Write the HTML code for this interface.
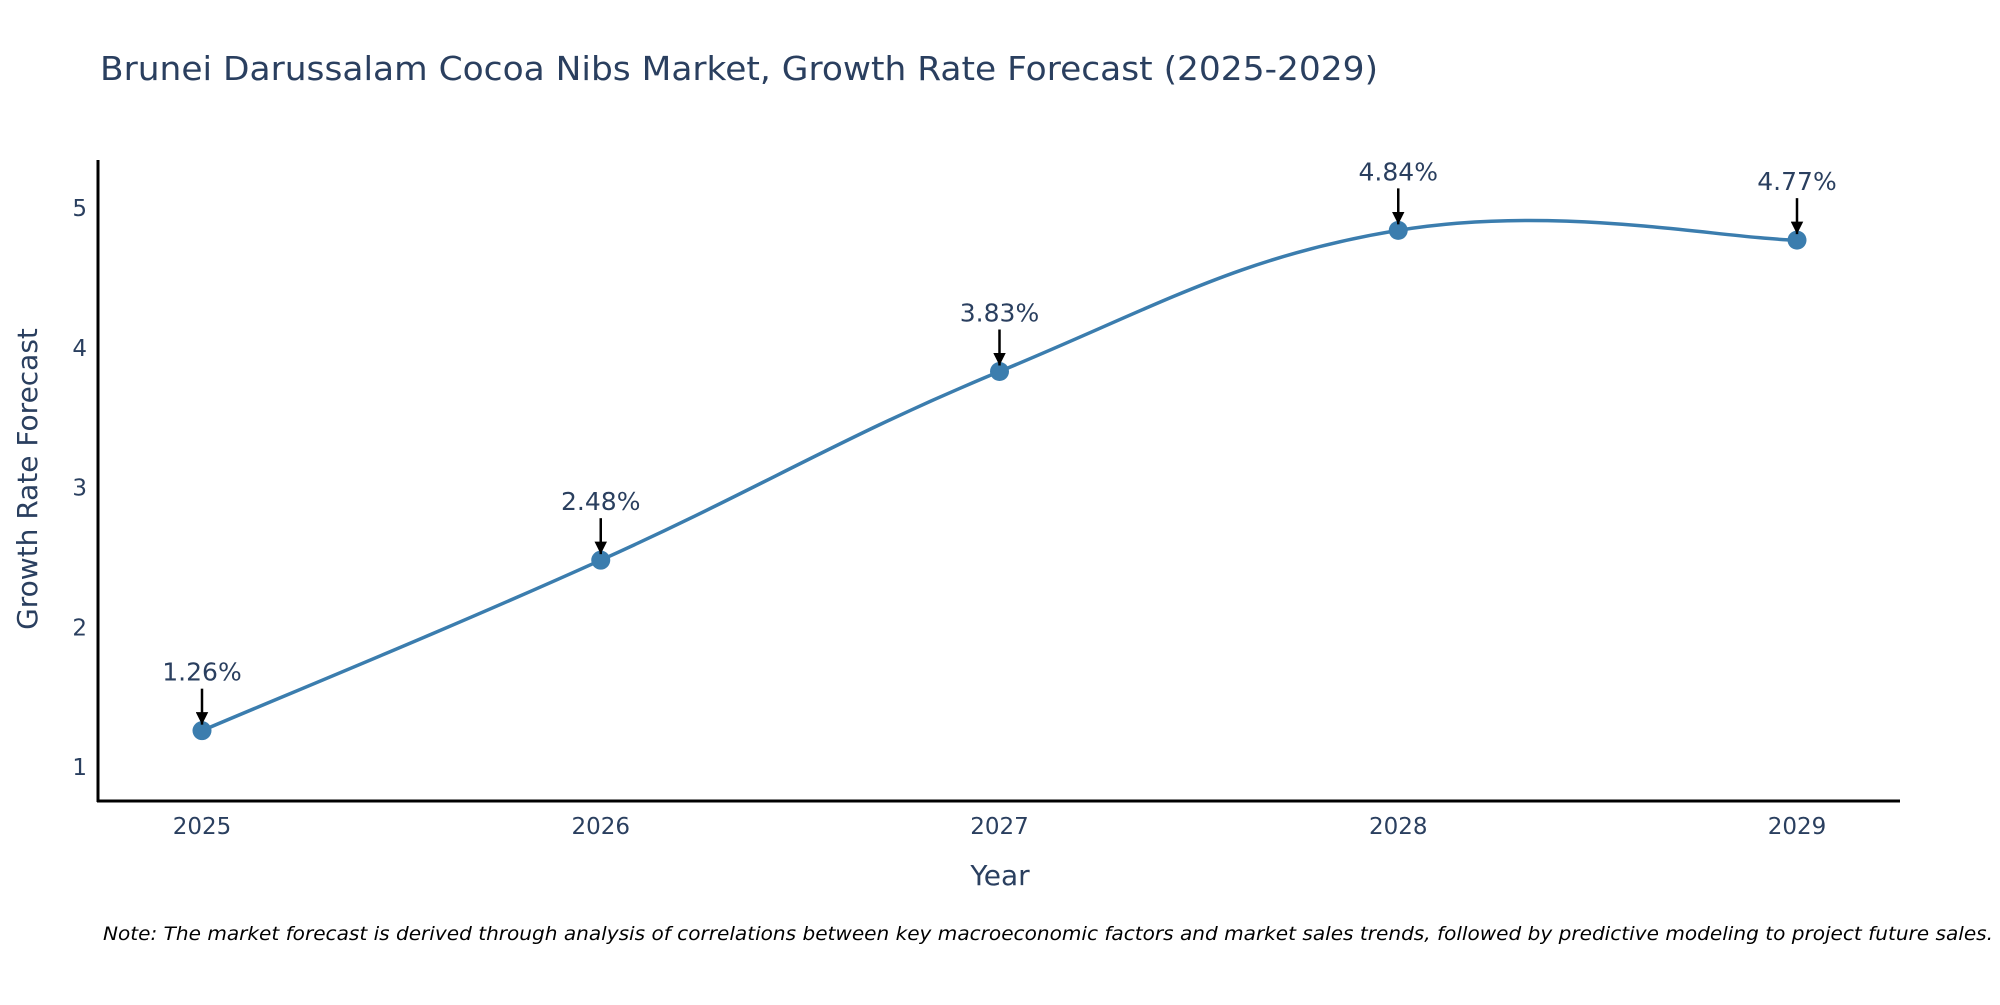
<!DOCTYPE html>
<html><head><meta charset="utf-8"><style>
body{margin:0;background:#fff;}
svg text{font-family:"DejaVu Sans","Liberation Sans",sans-serif;fill:#2a3f5f;}
</style></head><body>
<svg id="chart" width="2000" height="1000" viewBox="0 0 2000 1000" xmlns="http://www.w3.org/2000/svg">
<defs><marker id="ah" viewBox="0 0 10 10" refX="10" refY="5" markerWidth="5" markerHeight="5" markerUnits="strokeWidth" orient="auto"><path d="M0,0 L10,5 L0,10 z" fill="#000"/></marker></defs>
<text x="100" y="80" font-size="33" textLength="1278" lengthAdjust="spacingAndGlyphs">Brunei Darussalam Cocoa Nibs Market, Growth Rate Forecast (2025-2029)</text>
<g id="yticks"></g><g id="xticks"></g>
<line x1="98" y1="160" x2="98" y2="802" stroke="#000" stroke-width="3"/>
<line x1="97" y1="801" x2="1900" y2="801" stroke="#000" stroke-width="3"/>
<path id="line" fill="none" stroke="#3b7dae" stroke-width="3.5"/>
<g id="marks"></g>
<text transform="translate(37,479) rotate(-90)" text-anchor="middle" font-size="28">Growth Rate Forecast</text>
<text x="1000" y="885" text-anchor="middle" font-size="28">Year</text>
<text x="103" y="940" font-size="19" font-style="italic" style="fill:#000" textLength="1890" lengthAdjust="spacingAndGlyphs">Note: The market forecast is derived through analysis of correlations between key macroeconomic factors and market sales trends, followed by predictive modeling to project future sales.</text>
</svg>
<script>
const years = [2025, 2026, 2027, 2028, 2029];
const values = [1.26, 2.48, 3.83, 4.84, 4.77];
const valueLabels = ["1.26%", "2.48%", "3.83%", "4.84%", "4.77%"];
const yTicks = [1, 2, 3, 4, 5];
const NS = "http://www.w3.org/2000/svg";
const xs = y => 202 + (y - 2025) * 398.75;
const ys = v => 767 - (v - 1) * 139.75;
const yt = document.getElementById('yticks');
yTicks.forEach(t => {
  const e = document.createElementNS(NS, 'text');
  
  
  e.setAttribute('x', 87); e.setAttribute('y', ys(t) + 8);
  e.setAttribute('text-anchor', 'end'); e.setAttribute('font-size', '23');
  e.textContent = t; yt.appendChild(e);
});
const xt = document.getElementById('xticks');
years.forEach(y => {
  const e = document.createElementNS(NS, 'text');
  
  
  e.setAttribute('x', xs(y)); e.setAttribute('y', 834);
  e.setAttribute('text-anchor', 'middle'); e.setAttribute('font-size', '23');
  e.textContent = y; xt.appendChild(e);
});
const pts = years.map((y, i) => [xs(y), ys(values[i])]);
let d = `M${pts[0][0]},${pts[0][1]}`;
const k = 0.2;
for (let i = 0; i < pts.length - 1; i++) {
  const p0 = pts[Math.max(0, i - 1)], p1 = pts[i], p2 = pts[i + 1], p3 = pts[Math.min(pts.length - 1, i + 2)];
  const c1 = [p1[0] + (p2[0] - p0[0]) * k, p1[1] + (p2[1] - p0[1]) * k];
  const c2 = [p2[0] - (p3[0] - p1[0]) * k, p2[1] - (p3[1] - p1[1]) * k];
  d += ` C${c1[0]},${c1[1]} ${c2[0]},${c2[1]} ${p2[0]},${p2[1]}`;
}
document.getElementById('line').setAttribute('d', d);
const mg = document.getElementById('marks');
pts.forEach((p, i) => {
  const c = document.createElementNS(NS, 'circle');
  
  
  c.setAttribute('cx', p[0]); c.setAttribute('cy', p[1]); c.setAttribute('r', 9.5);
  c.setAttribute('fill', '#3b7dae'); mg.appendChild(c);
  const a = document.createElementNS(NS, 'line');
  
  
  a.setAttribute('x1', p[0]); a.setAttribute('y1', p[1] - 42);
  a.setAttribute('x2', p[0]); a.setAttribute('y2', p[1] - 6);
  a.setAttribute('stroke', '#000'); a.setAttribute('stroke-width', '2.5');
  a.setAttribute('marker-end', 'url(#ah)'); mg.appendChild(a);
  const t = document.createElementNS(NS, 'text');
  
  
  t.setAttribute('x', p[0]); t.setAttribute('y', p[1] - 50);
  t.setAttribute('text-anchor', 'middle'); t.setAttribute('font-size', '25');
  t.textContent = valueLabels[i]; mg.appendChild(t);
});
</script>
</body></html>
